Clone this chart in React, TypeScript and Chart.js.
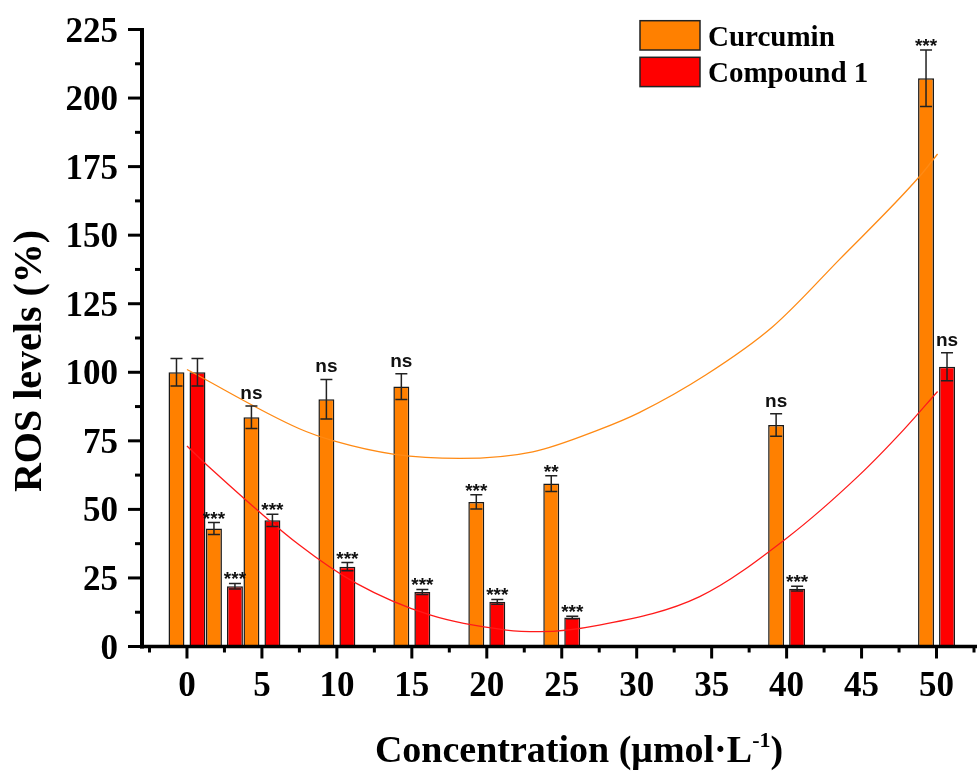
import React, { useEffect, useRef } from "react";
import { Chart, registerables } from "chart.js";

Chart.register(...registerables);

// ---- data ----
const CONCENTRATIONS = [0, 2.5, 5, 10, 15, 20, 25, 40, 50];

const CURCUMIN = [100, 43, 83.6, 90.2, 94.8, 52.7, 59.4, 80.8, 207.2];
const CURCUMIN_ERR = [5, 2.2, 4.1, 7.2, 4.7, 2.6, 2.9, 4.1, 10.3];
const CURCUMIN_SIG = ["", "***", "ns", "ns", "ns", "***", "**", "ns", "***"];

const COMPOUND1 = [100, 22, 46, 29.1, 19.9, 16.3, 10.6, 21.1, 102];
const COMPOUND1_ERR = [5, 1, 2.2, 1.5, 0.9, 0.85, 0.45, 0.9, 5.1];
const COMPOUND1_SIG = ["", "***", "***", "***", "***", "***", "***", "***", "ns"];

// fitted trend curves
const CURCUMIN_FIT_X = [0, 7.5, 9.85, 13.85, 18.2, 23.07, 27.5, 30.17, 34.6, 39.07, 43.5, 48.85, 50.07];
const CURCUMIN_FIT_Y = [101, 79.4, 74.9, 70.1, 68.6, 71, 79.1, 85.3, 99, 116.6, 141, 171.3, 179.6];
const COMPOUND1_FIT_X = [0, 1.29, 7.5, 11.3, 16.2, 21.3, 23.5, 27.5, 34.2, 40, 44.85, 47.8, 50.07];
const COMPOUND1_FIT_Y = [73.1, 66.4, 37, 23, 11.5, 6.0, 5.4, 7.8, 18.2, 39.5, 62.5, 79, 93];

// axis ticks
const X_MAJOR_TICKS = [0, 5, 10, 15, 20, 25, 30, 35, 40, 45, 50];
const X_MINOR_TICKS = [-2.5, 2.5, 7.5, 12.5, 17.5, 22.5, 27.5, 32.5, 37.5, 42.5, 47.5, 52.5];
const Y_MAJOR_TICKS = [0, 25, 50, 75, 100, 125, 150, 175, 200, 225];
const Y_MINOR_TICKS = [12.5, 37.5, 62.5, 87.5, 112.5, 137.5, 162.5, 187.5, 212.5];

const X_TITLE_MAIN = "Concentration (μmol·L";
const X_TITLE_SUP = "-1";
const X_TITLE_END = ")";
const Y_TITLE = "ROS levels (%)";

const ORANGE = "#FF8000";
const RED = "#FF0000";
const SERIF = '"Liberation Serif", "Times New Roman", serif';
const SANS = '"Liberation Sans", Arial, sans-serif';

const ERRORS = [CURCUMIN_ERR, COMPOUND1_ERR];
const SIGS = [CURCUMIN_SIG, COMPOUND1_SIG];

const decorPlugin = {
  id: "decor",
  afterDatasetsDraw(chart: any) {
    const ctx = chart.ctx;
    const yScale = chart.scales.y;
    let barIdx = 0;
    chart.data.datasets.forEach((ds: any, di: number) => {
      if (ds.type !== "bar") return;
      const errs = ERRORS[barIdx];
      const sigs = SIGS[barIdx];
      barIdx++;
      const meta = chart.getDatasetMeta(di);
      meta.data.forEach((el: any, i: number) => {
        const v = ds.data[i].y;
        const e = errs[i];
        const x = el.x;
        const yTop = yScale.getPixelForValue(v + e);
        const yBot = yScale.getPixelForValue(v - e);
        ctx.save();
        ctx.strokeStyle = "#222";
        ctx.lineWidth = 1.5;
        ctx.beginPath();
        ctx.moveTo(x, yTop);
        ctx.lineTo(x, yBot);
        ctx.moveTo(x - 6, yTop);
        ctx.lineTo(x + 6, yTop);
        ctx.moveTo(x - 6, yBot);
        ctx.lineTo(x + 6, yBot);
        ctx.stroke();
        const s = sigs[i];
        if (s) {
          ctx.fillStyle = "#111";
          ctx.font = `bold 19px ${SANS}`;
          ctx.textAlign = "center";
          ctx.textBaseline = "alphabetic";
          const by = s.startsWith("*") ? yTop + 2 : yTop - 7;
          ctx.fillText(s, x, by);
        }
        ctx.restore();
      });
    });
  },
  afterDraw(chart: any) {
    const ctx = chart.ctx;
    const xs = chart.scales.x;
    const ys = chart.scales.y;
    const area = chart.chartArea;
    const axisY = ys.getPixelForValue(0);
    const axisX = area.left;
    ctx.save();
    ctx.strokeStyle = "#000";
    ctx.fillStyle = "#000";
    // axis lines
    ctx.lineWidth = 4;
    ctx.beginPath();
    ctx.moveTo(axisX, ys.getPixelForValue(225) - 1.5);
    ctx.lineTo(axisX, axisY + 2);
    ctx.stroke();
    ctx.lineWidth = 3.5;
    ctx.beginPath();
    ctx.moveTo(axisX - 2, axisY);
    ctx.lineTo(area.right, axisY);
    ctx.stroke();
    // ticks
    ctx.lineWidth = 3;
    xs.ticks.forEach((t: any) => {
      const px = xs.getPixelForValue(t.value);
      const major = X_MAJOR_TICKS.includes(t.value);
      ctx.beginPath();
      ctx.moveTo(px, axisY);
      ctx.lineTo(px, axisY + (major ? 12 : 6));
      ctx.stroke();
    });
    ys.ticks.forEach((t: any) => {
      const py = ys.getPixelForValue(t.value);
      const major = Y_MAJOR_TICKS.includes(t.value);
      ctx.beginPath();
      ctx.moveTo(axisX, py);
      ctx.lineTo(axisX - (major ? 14 : 7), py);
      ctx.stroke();
    });
    // tick labels
    ctx.font = `bold 35px ${SERIF}`;
    ctx.textBaseline = "alphabetic";
    ctx.textAlign = "center";
    X_MAJOR_TICKS.forEach((v) => {
      ctx.fillText(String(v), xs.getPixelForValue(v), 696);
    });
    ctx.textAlign = "right";
    Y_MAJOR_TICKS.forEach((v) => {
      ctx.fillText(String(v), 118, ys.getPixelForValue(v) + 12);
    });
    // y title
    ctx.save();
    ctx.font = `bold 40px ${SERIF}`;
    ctx.translate(41, 361);
    ctx.rotate(-Math.PI / 2);
    ctx.textAlign = "center";
    ctx.fillText(Y_TITLE, 0, 0);
    ctx.restore();
    // x title
    const mainFont = `bold 38px ${SERIF}`;
    const supFont = `bold 22px ${SERIF}`;
    ctx.textAlign = "left";
    ctx.font = mainFont;
    const w1 = ctx.measureText(X_TITLE_MAIN).width;
    const w3 = ctx.measureText(X_TITLE_END).width;
    ctx.font = supFont;
    const w2 = ctx.measureText(X_TITLE_SUP).width;
    const total = w1 + w2 + w3;
    let tx = 579 - total / 2;
    const tb = 762;
    ctx.font = mainFont;
    ctx.fillText(X_TITLE_MAIN, tx, tb);
    tx += w1;
    ctx.font = supFont;
    ctx.fillText(X_TITLE_SUP, tx, tb - 15);
    tx += w2;
    ctx.font = mainFont;
    ctx.fillText(X_TITLE_END, tx, tb);
    // legend
    const bars = chart.data.datasets.filter((d: any) => d.type === "bar");
    ctx.font = `bold 29px ${SERIF}`;
    ctx.textAlign = "left";
    bars.forEach((d: any, i: number) => {
      const by = 20.7 + i * 36.6;
      ctx.fillStyle = d.backgroundColor;
      ctx.fillRect(640, by, 60, 29.3);
      ctx.strokeStyle = "#222";
      ctx.lineWidth = 1.5;
      ctx.strokeRect(640, by, 60, 29.3);
      ctx.fillStyle = "#000";
      ctx.fillText(d.label, 708, by + 25);
    });
    ctx.restore();
  },
};

export default function App() {
  const ref = useRef<HTMLCanvasElement | null>(null);
  useEffect(() => {
    if (!ref.current) return;
    const chart = new Chart(ref.current, {
      type: "bar",
      data: {
        datasets: [
          {
            type: "line",
            label: "Curcumin fit",
            data: CURCUMIN_FIT_X.map((x, i) => ({ x, y: CURCUMIN_FIT_Y[i] })),
            borderColor: "#FF8A14",
            borderWidth: 1.3,
            pointRadius: 0,
            cubicInterpolationMode: "monotone",
            fill: false,
            order: 0,
          },
          {
            type: "line",
            label: "Compound 1 fit",
            data: COMPOUND1_FIT_X.map((x, i) => ({ x, y: COMPOUND1_FIT_Y[i] })),
            borderColor: "#FF1A1A",
            borderWidth: 1.3,
            pointRadius: 0,
            cubicInterpolationMode: "monotone",
            fill: false,
            order: 0,
          },
          {
            type: "bar",
            label: "Curcumin",
            data: CONCENTRATIONS.map((x, i) => ({ x, y: CURCUMIN[i] })),
            backgroundColor: ORANGE,
            borderColor: "#1a1a1a",
            borderWidth: 1.5,
            categoryPercentage: 1.12,
            barPercentage: 0.76,
            order: 1,
          },
          {
            type: "bar",
            label: "Compound 1",
            data: CONCENTRATIONS.map((x, i) => ({ x, y: COMPOUND1[i] })),
            backgroundColor: RED,
            borderColor: "#1a1a1a",
            borderWidth: 1.5,
            categoryPercentage: 1.12,
            barPercentage: 0.76,
            order: 1,
          },
        ] as any,
      },
      options: {
        responsive: false,
        animation: false,
        devicePixelRatio: 1,
        layout: { padding: { left: 142, top: 29.5, right: 0, bottom: 125.5 } },
        plugins: { legend: { display: false }, tooltip: { enabled: false } },
        scales: {
          x: {
            type: "linear",
            offset: false,
            min: -3,
            max: 52.7,
            display: false,
            afterBuildTicks: (s: any) => {
              s.ticks = [...X_MAJOR_TICKS, ...X_MINOR_TICKS]
                .sort((a, b) => a - b)
                .map((v) => ({ value: v }));
            },
          },
          y: {
            type: "linear",
            min: 0,
            max: 225,
            display: false,
            afterBuildTicks: (s: any) => {
              s.ticks = [...Y_MAJOR_TICKS, ...Y_MINOR_TICKS]
                .sort((a, b) => a - b)
                .map((v) => ({ value: v }));
            },
          },
        },
      } as any,
      plugins: [decorPlugin],
    });
    return () => chart.destroy();
  }, []);
  return (
    <div style={{ position: "fixed", left: 0, top: 0, width: 977, height: 772, background: "#fff" }}>
      <canvas ref={ref} width={977} height={772} style={{ display: "block" }} />
    </div>
  );
}
